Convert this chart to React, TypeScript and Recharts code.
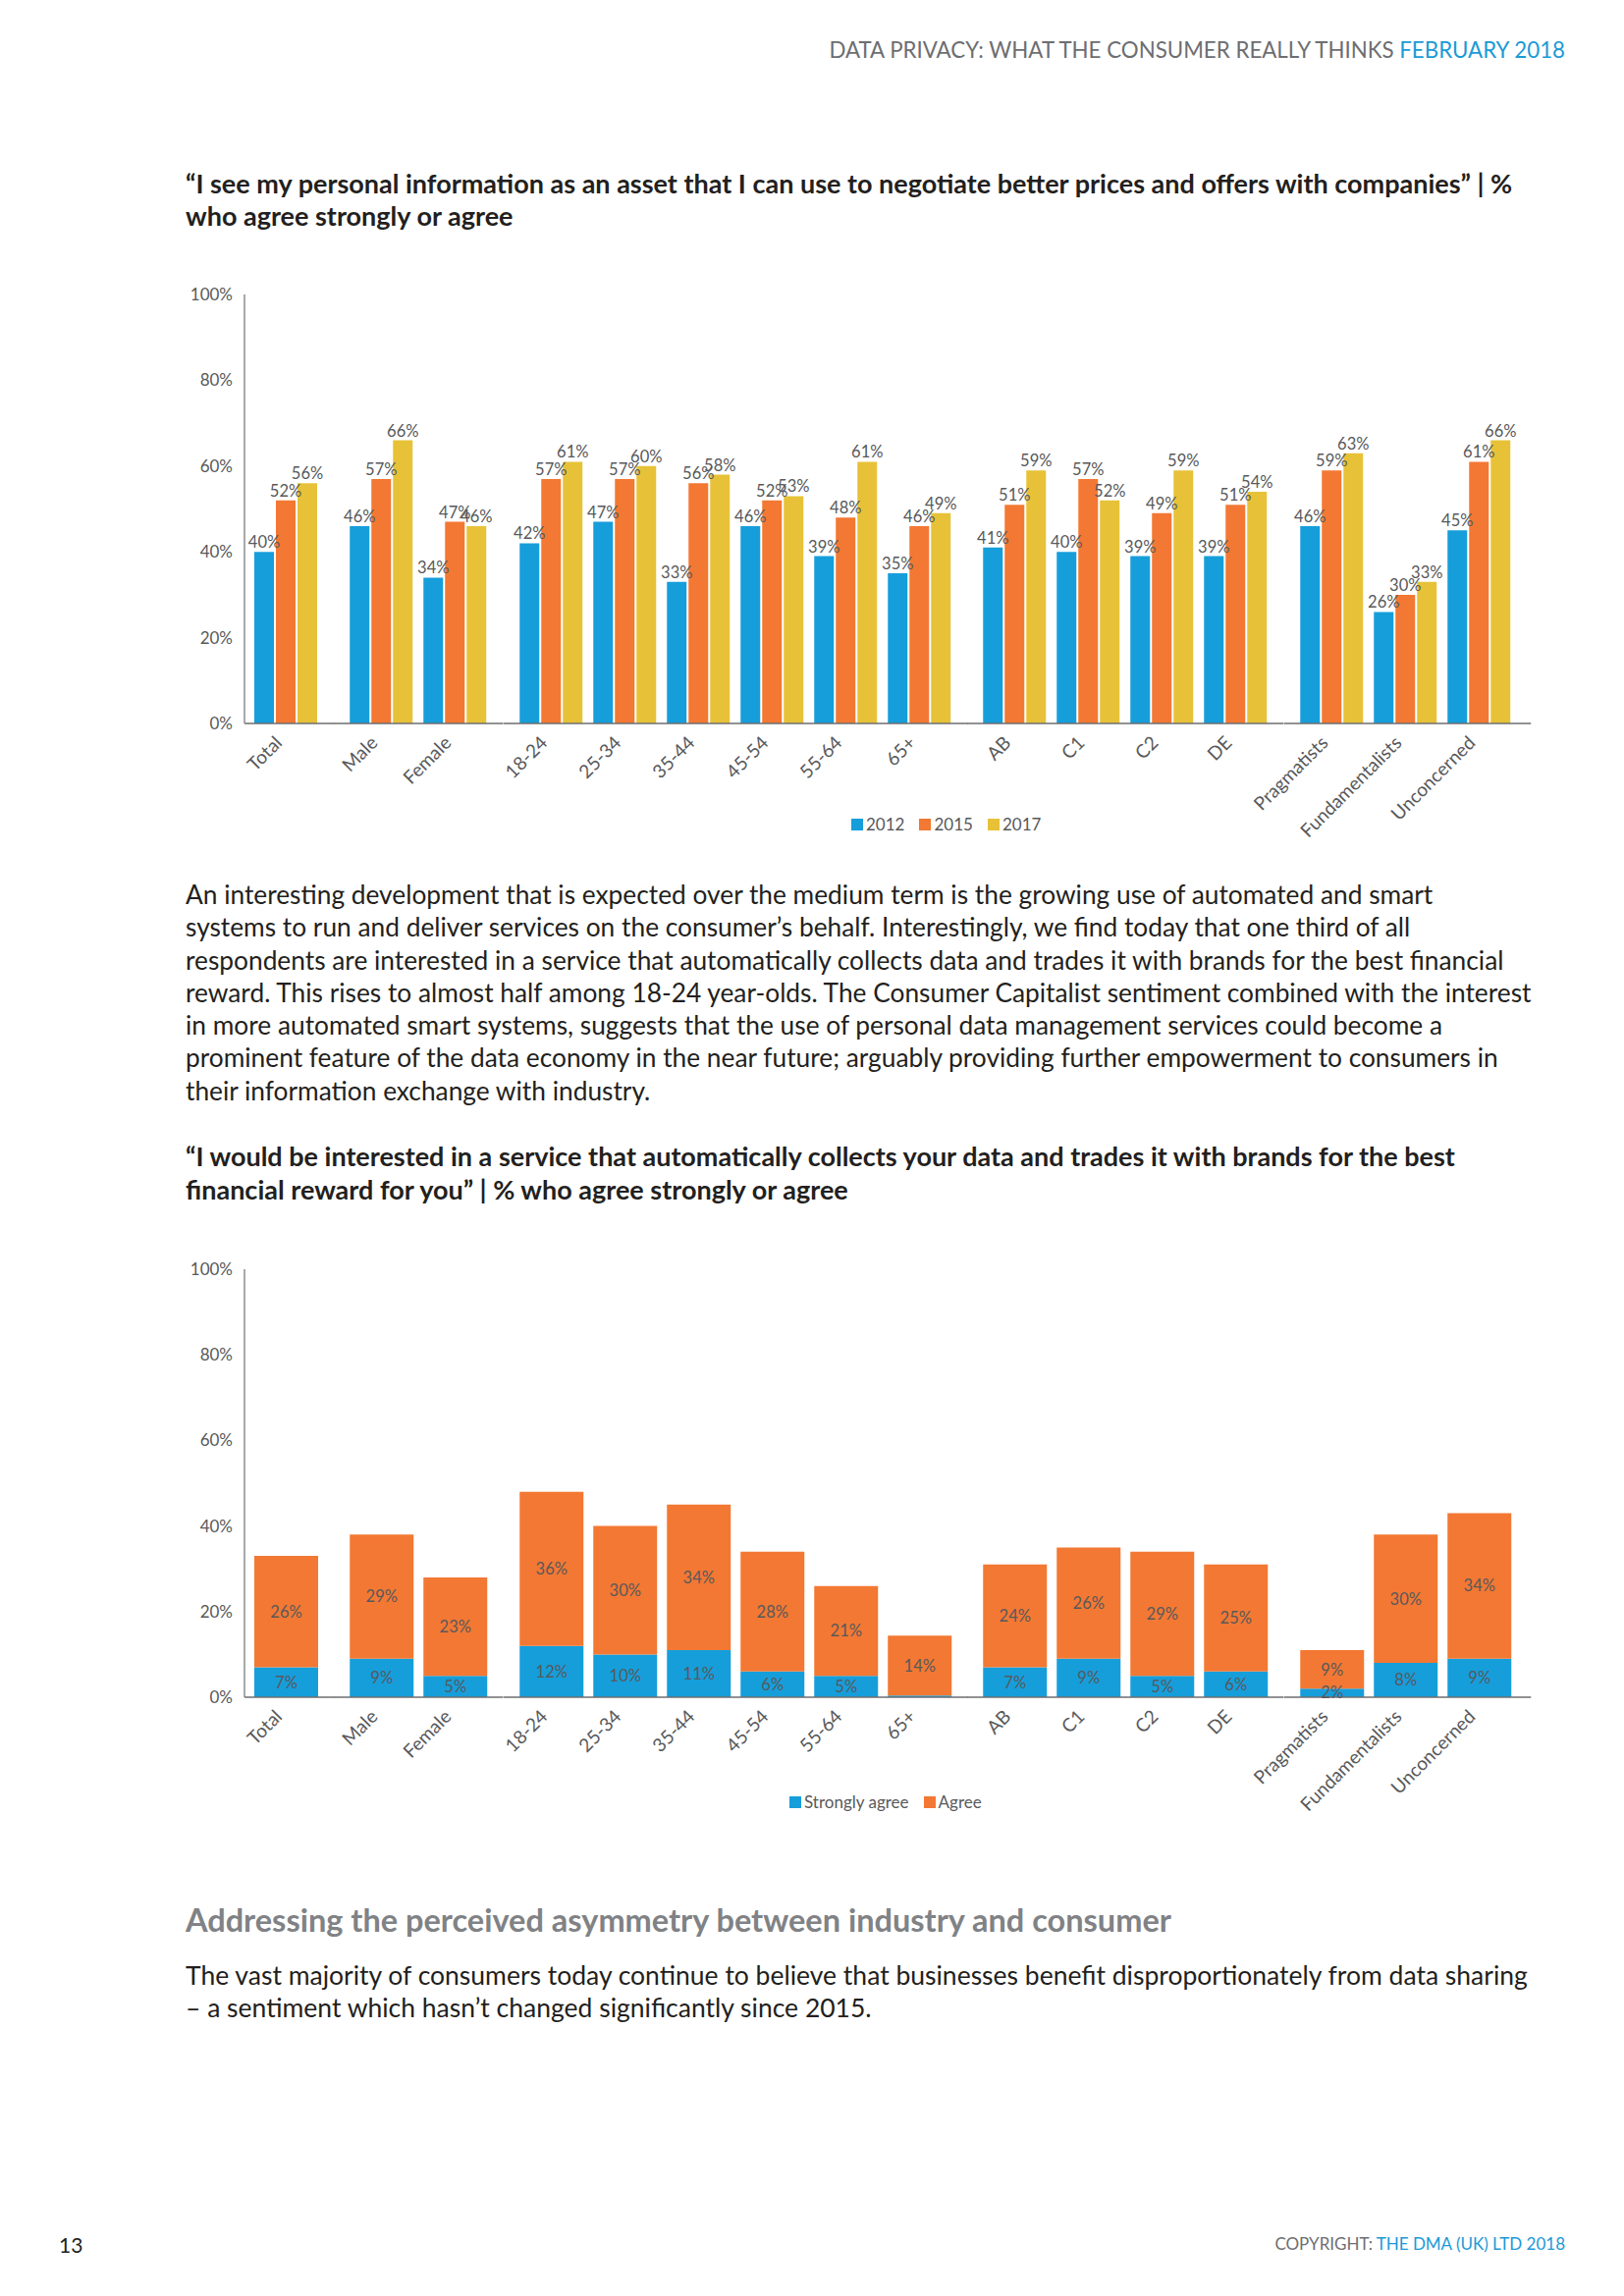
import { Bar, BarChart, LabelList, XAxis, YAxis } from "recharts";

const categories = [
  "Total",
  "Male",
  "Female",
  "18-24",
  "25-34",
  "35-44",
  "45-54",
  "55-64",
  "65+",
  "AB",
  "C1",
  "C2",
  "DE",
  "Pragmatists",
  "Fundamentalists",
  "Unconcerned",
];
// how many categories sit in each cluster (Total | gender | age | social grade | segment)
const groupSizes = [1, 2, 6, 4, 3];

const values2012 = [40, 46, 34, 42, 47, 33, 46, 39, 35, 41, 40, 39, 39, 46, 26, 45];
const values2015 = [52, 57, 47, 57, 57, 56, 52, 48, 46, 51, 57, 49, 51, 59, 30, 61];
const values2017 = [56, 66, 46, 61, 60, 58, 53, 61, 49, 59, 52, 59, 54, 63, 33, 66];

const stronglyAgree = [7, 9, 5, 12, 10, 11, 6, 5, 0.4, 7, 9, 5, 6, 2, 8, 9];
const agree = [26, 29, 23, 36, 30, 34, 28, 21, 14, 24, 26, 29, 25, 9, 30, 34];

const yTicks = [0, 20, 40, 60, 80, 100];

const BLUE = "#169edb";
const ORANGE = "#f37833";
const YELLOW = "#e7c238";
const GREY = "#58595b";

const FONT = "Lato, 'Noto Sans', sans-serif";

type Series = { key: string; name: string; color: string; values: number[] };

const yearSeries: Series[] = [
  { key: "y2012", name: "2012", color: BLUE, values: values2012 },
  { key: "y2015", name: "2015", color: ORANGE, values: values2015 },
  { key: "y2017", name: "2017", color: YELLOW, values: values2017 },
];

const agreeSeries: Series[] = [
  { key: "strong", name: "Strongly agree", color: BLUE, values: stronglyAgree },
  { key: "agree", name: "Agree", color: ORANGE, values: agree },
];

// page geometry (px)
const AXIS_X = 249;
const STEP = 75;
const GAP = 22.5;
const FIRST_PAD = 5;
const LAST_PAD = 15;
const Y_AXIS_W = 70;
const TOP_MARGIN = 20;
const X_AXIS_H = 130;

function buildRows(series: Series[]) {
  return categories.map((name, i) => {
    const row: Record<string, string | number> = { name };
    series.forEach((s) => {
      row[s.key] = s.values[i];
    });
    return row;
  });
}

function splitGroups<T>(rows: T[]) {
  const out: T[][] = [];
  let start = 0;
  groupSizes.forEach((n) => {
    out.push(rows.slice(start, start + n));
    start += n;
  });
  return out;
}

const pct = (v: any) => {
  const n = Math.round(Number(v));
  return n >= 1 ? `${n}%` : "";
};

function SlantTick({ x, y, payload }: any) {
  const tx = x - 3;
  const ty = y + 13;
  return (
    <text
      x={tx}
      y={ty}
      transform={`rotate(-45 ${tx} ${ty})`}
      textAnchor="end"
      fill={GREY}
      fontSize={19}
      fontFamily={FONT}
    >
      {payload.value}
    </text>
  );
}

interface PanelProps {
  top: number;
  plotHeight: number;
  series: Series[];
  stacked: boolean;
}

function Panel({ top, plotHeight, series, stacked }: PanelProps) {
  const groups = splitGroups(buildRows(series));
  let cursor = AXIS_X;

  return (
    <>
      {groups.map((rows, g) => {
        const padLeft = g === 0 ? FIRST_PAD : GAP / 2;
        const padRight = g === groups.length - 1 ? LAST_PAD : GAP / 2;
        const plotW = padLeft + rows.length * STEP + padRight;
        const first = g === 0;
        const left = first ? cursor - Y_AXIS_W : cursor;
        const width = first ? plotW + Y_AXIS_W : plotW;
        cursor += plotW;

        return (
          <div key={g} style={{ position: "absolute", left, top }}>
            <BarChart
              width={width}
              height={TOP_MARGIN + plotHeight + X_AXIS_H}
              data={rows}
              margin={{ top: TOP_MARGIN, right: 0, bottom: 0, left: 0 }}
              barCategoryGap={5}
              barGap={2}
            >
              <XAxis
                dataKey="name"
                interval={0}
                height={X_AXIS_H}
                tickLine={false}
                tick={<SlantTick />}
                axisLine={{ stroke: "#6d6e71", strokeWidth: 1.5 }}
                padding={{ left: padLeft, right: padRight }}
              />
              <YAxis
                hide={!first}
                width={first ? Y_AXIS_W : 0}
                domain={[0, 100]}
                ticks={yTicks}
                tickFormatter={(v) => `${v}%`}
                tickLine={false}
                tickMargin={6}
                axisLine={{ stroke: "#8a8b8d", strokeWidth: 1.5 }}
                tick={{ fill: GREY, fontSize: 17, fontFamily: FONT }}
              />
              {series.map((s) => (
                <Bar
                  key={s.key}
                  dataKey={s.key}
                  name={s.name}
                  fill={s.color}
                  stackId={stacked ? "a" : undefined}
                  isAnimationActive={false}
                >
                  <LabelList
                    dataKey={s.key}
                    position={stacked ? "center" : "top"}
                    offset={4}
                    formatter={pct}
                    fill={GREY}
                    fontSize={16.5}
                    fontFamily={FONT}
                  />
                </Bar>
              ))}
            </BarChart>
          </div>
        );
      })}
    </>
  );
}

function Legend({ series, left, top }: { series: Series[]; left: number; top: number }) {
  return (
    <div
      style={{
        position: "absolute",
        left,
        top,
        display: "flex",
        gap: 15,
        fontFamily: FONT,
        fontSize: 17,
        color: GREY,
        lineHeight: "22px",
      }}
    >
      {series.map((s) => (
        <div key={s.key} style={{ display: "flex", alignItems: "center", gap: 3 }}>
          <span style={{ width: 12, height: 12, background: s.color, display: "inline-block" }} />
          <span>{s.name}</span>
        </div>
      ))}
    </div>
  );
}

const textLine = { whiteSpace: "nowrap" as const };

export default function App() {
  return (
    <div
      style={{
        position: "absolute",
        left: 0,
        top: 0,
        width: 1654,
        height: 2339,
        background: "#fff",
        fontFamily: FONT,
        color: "#231f20",
      }}
    >
      <style>{`.recharts-surface{overflow:visible}`}</style>

      <div
        style={{
          position: "absolute",
          right: 60,
          top: 37,
          fontSize: 22.3,
          lineHeight: "28px",
          color: "#6d6e71",
          whiteSpace: "nowrap",
        }}
      >
        DATA PRIVACY: WHAT THE CONSUMER REALLY THINKS{" "}
        <span style={{ color: "#1b9ad6" }}>FEBRUARY 2018</span>
      </div>

      <div
        style={{
          position: "absolute",
          left: 189,
          top: 170,
          fontSize: 27,
          lineHeight: "33px",
          fontWeight: 700,
        }}
      >
        <div style={textLine}>
          “I see my personal information as an asset that I can use to negotiate better prices and
          offers with companies” | %
        </div>
        <div style={textLine}>who agree strongly or agree</div>
      </div>

      <Panel top={300 - TOP_MARGIN} plotHeight={437} series={yearSeries} stacked={false} />
      <Legend series={yearSeries} left={867} top={829} />

      <div
        style={{
          position: "absolute",
          left: 189,
          top: 895,
          fontSize: 26.3,
          lineHeight: "33.3px",
        }}
      >
        <div style={textLine}>
          An interesting development that is expected over the medium term is the growing use of
          automated and smart
        </div>
        <div style={textLine}>
          systems to run and deliver services on the consumer’s behalf. Interestingly, we find today
          that one third of all
        </div>
        <div style={textLine}>
          respondents are interested in a service that automatically collects data and trades it
          with brands for the best financial
        </div>
        <div style={textLine}>
          reward. This rises to almost half among 18-24 year-olds. The Consumer Capitalist sentiment
          combined with the interest
        </div>
        <div style={textLine}>
          in more automated smart systems, suggests that the use of personal data management
          services could become a
        </div>
        <div style={textLine}>
          prominent feature of the data economy in the near future; arguably providing further
          empowerment to consumers in
        </div>
        <div style={textLine}>their information exchange with industry.</div>
      </div>

      <div
        style={{
          position: "absolute",
          left: 189,
          top: 1161,
          fontSize: 27,
          lineHeight: "34px",
          fontWeight: 700,
        }}
      >
        <div style={textLine}>
          “I would be interested in a service that automatically collects your data and trades it
          with brands for the best
        </div>
        <div style={textLine}>financial reward for you” | % who agree strongly or agree</div>
      </div>

      <Panel top={1293 - TOP_MARGIN} plotHeight={436} series={agreeSeries} stacked={true} />
      <Legend series={agreeSeries} left={804} top={1825} />

      <div
        style={{
          position: "absolute",
          left: 189,
          top: 1937,
          fontSize: 32.5,
          lineHeight: "38px",
          fontWeight: 700,
          color: "#808285",
          whiteSpace: "nowrap",
        }}
      >
        Addressing the perceived asymmetry between industry and consumer
      </div>

      <div
        style={{
          position: "absolute",
          left: 189,
          top: 1996,
          fontSize: 26.5,
          lineHeight: "33px",
        }}
      >
        <div style={textLine}>
          The vast majority of consumers today continue to believe that businesses benefit
          disproportionately from data sharing
        </div>
        <div style={textLine}>– a sentiment which hasn’t changed significantly since 2015.</div>
      </div>

      <div
        style={{
          position: "absolute",
          left: 60,
          top: 2274,
          fontSize: 21,
          lineHeight: "26px",
        }}
      >
        13
      </div>
      <div
        style={{
          position: "absolute",
          right: 60,
          top: 2274,
          fontSize: 17,
          lineHeight: "24px",
          color: "#6d6e71",
          whiteSpace: "nowrap",
        }}
      >
        COPYRIGHT: <span style={{ color: "#1b9ad6" }}>THE DMA (UK) LTD 2018</span>
      </div>
    </div>
  );
}
